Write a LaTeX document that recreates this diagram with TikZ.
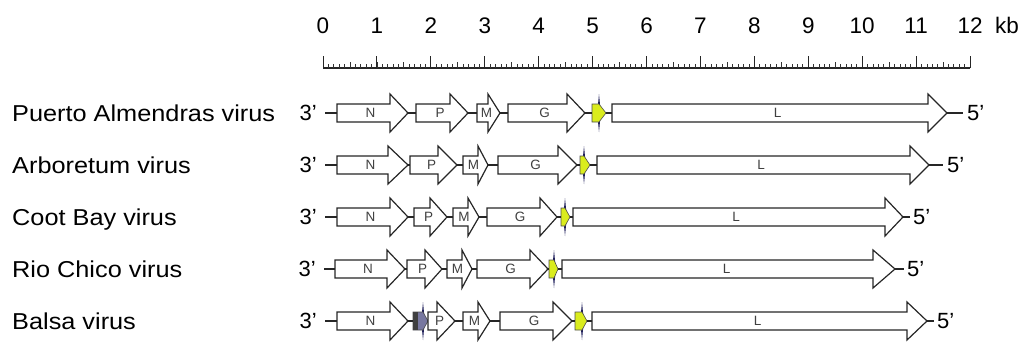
\documentclass[tikz,border=0pt]{standalone}
\usepackage{fontspec}
\setmainfont{Liberation Sans}
\newfontfamily\virusfont{Liberation Sans}[FakeStretch=1.1]
\definecolor{ygene}{RGB}{218,236,30}
\definecolor{bgene}{RGB}{120,120,160}
\definecolor{spikec}{RGB}{30,30,90}
\tikzset{
  gene/.style={draw=black!85, line width=1.2pt, fill=white, line join=miter},
  conn/.style={draw=black!85, line width=1.2pt},
  genelabel/.style={inner sep=0pt, text=black!75, font=\fontsize{13.5}{13.5}\selectfont},
  smallg/.style={draw=black!70, line width=0.6pt},
  spikefill/.style={fill=spikec},
  prime/.style={inner sep=0pt, font=\fontsize{22}{22}\selectfont},
  virus/.style={inner sep=0pt, anchor=base west, font=\virusfont\fontsize{23}{23}\selectfont},
  scalenum/.style={inner sep=0pt, anchor=base, font=\fontsize{22.5}{22.5}\selectfont},
}
\newcommand{\genearrow}[6]{%
  \draw[gene] (#3,#2-9) -- (#4,#2-9) -- (#4,#2-19) -- (#5,#2) -- (#4,#2+19) -- (#4,#2+9) -- (#3,#2+9) -- cycle;
  \coordinate (#1s) at (#3,#2);
  \coordinate (#1t) at (#5,#2);
  \node[genelabel] (#1l) at ({(#3+#5)/2-2},#2) {#6};
}
\newcommand{\smallgene}[6]{%
  \fill[spikefill] (#4,#2-19) -- (#4+1.8,#2) -- (#4,#2+19) -- (#4-1.8,#2) -- cycle;
  \draw[smallg, fill=#6] (#3,#2-9) -- (#4,#2-9) -- (#5,#2) -- (#4,#2+9) -- (#3,#2+9) -- cycle;
  \coordinate (#1s) at (#3,#2);
  \coordinate (#1t) at (#5,#2);
}
\begin{document}
\begin{tikzpicture}[x=1pt, y=-1pt]
\useasboundingbox (0,0) rectangle (1026,343);
% ruler
\draw[line width=1.2pt, black!85] (323,68) -- (970.4,68);
\foreach \j in {1,...,119} {
  \pgfmathsetmacro{\xx}{323+5.392*\j}
  \pgfmathtruncatemacro{\mm}{mod(\j,5)}
  \ifnum\mm=0
    \draw[line width=0.8pt, black!80] (\xx,68) -- (\xx,62);
  \else
    \draw[line width=0.8pt, black!80] (\xx,68) -- (\xx,64);
  \fi
}
\foreach \i in {0,...,12} {
  \draw[line width=1pt, black!85] ({323+53.92*\i},68) -- ({323+53.92*\i},56);
  \node[scalenum] (n\i) at ({323+53.92*\i},33) {\i};
}
\node[scalenum] (kb) at (1007,33) {kb};
% virus names
\node[virus] (v1) at (12,121) {Puerto Almendras virus};
\node[virus] (v2) at (12,173) {Arboretum virus};
\node[virus] (v3) at (12,225) {Coot Bay virus};
\node[virus] (v4) at (12,277) {Rio Chico virus};
\node[virus] (v5) at (12,329) {Balsa virus};

% Row 1
\node[prime, anchor=east] (r1a) at (317,113) {3'};
\node[prime, anchor=west] (r1b) at (967,113) {5'};
\genearrow{r1N}{113}{337}{390}{408}{N}
\genearrow{r1P}{113}{416}{450}{468}{P}
\genearrow{r1M}{113}{477}{488}{500}{M}
\genearrow{r1G}{113}{508}{567}{585}{G}
\smallgene{r1Y}{113}{592}{599}{606}{ygene}
\genearrow{r1L}{113}{612}{928}{947}{L}
\draw[conn, shorten <=8pt] (r1a.east) -- (r1Ns);
\draw[conn] (r1Nt) -- (r1Ps);
\draw[conn] (r1Pt) -- (r1Ms);
\draw[conn] (r1Mt) -- (r1Gs);
\draw[conn] (r1Gt) -- (r1Ys);
\draw[conn] (r1Yt) -- (r1Ls);
\draw[conn, shorten >=4pt] (r1Lt) -- (r1b.west);

% Row 2
\node[prime, anchor=east] (r2a) at (317,165) {3'};
\node[prime, anchor=west] (r2b) at (947,165) {5'};
\genearrow{r2N}{165}{337}{388}{408}{N}
\genearrow{r2P}{165}{410}{438}{457}{P}
\genearrow{r2M}{165}{463}{478}{488}{M}
\genearrow{r2G}{165}{498}{558}{577}{G}
\smallgene{r2Y}{165}{580}{584}{590}{ygene}
\genearrow{r2L}{165}{597}{910}{929}{L}
\draw[conn, shorten <=8pt] (r2a.east) -- (r2Ns);
\draw[conn] (r2Nt) -- (r2Ps);
\draw[conn] (r2Pt) -- (r2Ms);
\draw[conn] (r2Mt) -- (r2Gs);
\draw[conn] (r2Gt) -- (r2Ys);
\draw[conn] (r2Yt) -- (r2Ls);
\draw[conn, shorten >=4pt] (r2Lt) -- (r2b.west);

% Row 3
\node[prime, anchor=east] (r3a) at (317,217) {3'};
\node[prime, anchor=west] (r3b) at (913,217) {5'};
\genearrow{r3N}{217}{337}{390}{408}{N}
\genearrow{r3P}{217}{414}{430}{447}{P}
\genearrow{r3M}{217}{453}{468}{479}{M}
\genearrow{r3G}{217}{487}{540}{557}{G}
\smallgene{r3Y}{217}{561}{565}{570}{ygene}
\genearrow{r3L}{217}{573}{885}{903}{L}
\draw[conn, shorten <=8pt] (r3a.east) -- (r3Ns);
\draw[conn] (r3Nt) -- (r3Ps);
\draw[conn] (r3Pt) -- (r3Ms);
\draw[conn] (r3Mt) -- (r3Gs);
\draw[conn] (r3Gt) -- (r3Ys);
\draw[conn] (r3Yt) -- (r3Ls);
\draw[conn, shorten >=3pt] (r3Lt) -- (r3b.west);

% Row 4
\node[prime, anchor=east] (r4a) at (316,269) {3'};
\node[prime, anchor=west] (r4b) at (907,269) {5'};
\genearrow{r4N}{269}{335}{387}{405}{N}
\genearrow{r4P}{269}{407}{425}{442}{P}
\genearrow{r4M}{269}{447}{462}{472}{M}
\genearrow{r4G}{269}{477}{530}{548}{G}
\smallgene{r4Y}{269}{549}{554}{558}{ygene}
\genearrow{r4L}{269}{562}{873}{895}{L}
\draw[conn, shorten <=8pt] (r4a.east) -- (r4Ns);
\draw[conn] (r4Nt) -- (r4Ps);
\draw[conn] (r4Pt) -- (r4Ms);
\draw[conn] (r4Mt) -- (r4Gs);
\draw[conn] (r4Gt) -- (r4Ys);
\draw[conn] (r4Yt) -- (r4Ls);
\draw[conn, shorten >=3pt] (r4Lt) -- (r4b.west);

% Row 5
\node[prime, anchor=east] (r5a) at (317,321) {3'};
\node[prime, anchor=west] (r5b) at (937,321) {5'};
\genearrow{r5N}{321}{337}{390}{408}{N}
\smallgene{r5X}{321}{413}{423}{428}{bgene}
\fill[black!75] (413.3,312.3) rectangle (418,329.7);
\genearrow{r5P}{321}{428}{437}{455}{P}
\genearrow{r5M}{321}{463}{478}{490}{M}
\genearrow{r5G}{321}{500}{553}{572}{G}
\smallgene{r5Y}{321}{575}{582}{587}{ygene}
\genearrow{r5L}{321}{592}{907}{927}{L}
\draw[conn, shorten <=8pt] (r5a.east) -- (r5Ns);
\draw[conn] (r5Nt) -- (r5Xs);
\draw[conn] (r5Pt) -- (r5Ms);
\draw[conn] (r5Mt) -- (r5Gs);
\draw[conn] (r5Gt) -- (r5Ys);
\draw[conn] (r5Yt) -- (r5Ls);
\draw[conn, shorten >=3pt] (r5Lt) -- (r5b.west);
\end{tikzpicture}
\end{document}
